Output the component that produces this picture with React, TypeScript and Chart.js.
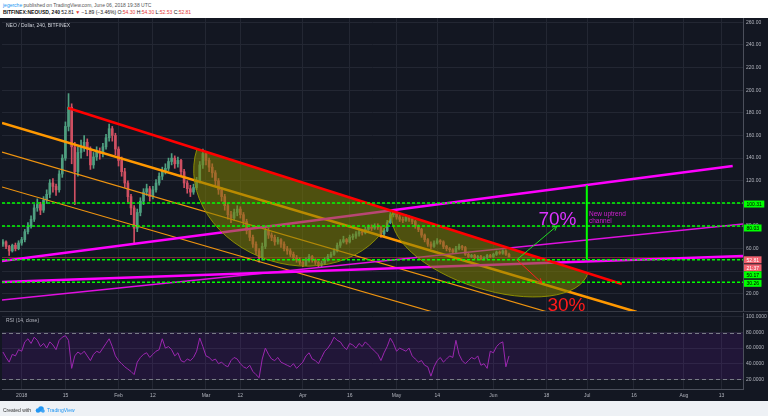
import React, { useEffect, useRef } from 'react';
import { Chart, registerables } from 'chart.js';
Chart.register(...registerables);

const FONT = '"Liberation Sans", Arial, sans-serif';

// day index 0 = Jan 1 2018; first candle = Dec 26 2017
const FIRST_DAY = -6;
const firstOpen = 64;
const closes = [
  66, 62, 58, 63, 60, 65, 68, 75, 80, 86,
  96, 99, 94, 103, 108, 118, 115, 112, 126, 140,
  168, 185, 150, 128, 145, 150, 154, 148, 134, 141,
  146, 144, 150, 158, 166, 160, 148, 138, 128, 118,
  106, 96, 78, 92, 102, 110, 113, 106, 112, 118,
  124, 129, 131, 137, 140, 135, 138, 128, 118, 113,
  110, 114, 120, 134, 144, 138, 132, 127, 120, 112,
  106, 98, 90, 87, 92, 95, 90, 84, 76, 70,
  64, 58, 52, 62, 76, 72, 70, 66, 68, 64,
  60, 58, 55, 52, 50, 48, 46, 50, 53, 50,
  48, 46, 47, 50, 53, 55, 58, 63, 66, 68,
  66, 70, 71, 73, 75, 74, 77, 79, 78, 80,
  79, 73, 76, 83, 90, 92, 88, 86, 85, 88,
  86, 84, 80, 77, 72, 68, 64, 62, 65, 67,
  66, 62, 60, 59, 57, 60, 62, 61, 55, 53,
  54, 52, 53, 51, 52, 54, 53, 55, 57, 56,
  58, 55, 52.81,
];
const highs = [
  68, 67, 63, 64, 65, 67, 70, 77, 83, 89,
  99, 104, 101, 106, 112, 121, 122, 117, 129, 143,
  172, 197, 188, 154, 150, 156, 160, 157, 150, 145,
  150, 149, 153, 161, 170, 168, 162, 150, 141, 131,
  120, 108, 98, 95, 105, 113, 117, 115, 115, 121,
  127, 132, 135, 140, 144, 142, 141, 139, 130, 120,
  116, 117, 123, 137, 148, 146, 140, 135, 129, 122,
  114, 108, 100, 93, 95, 98, 97, 92, 86, 78,
  72, 66, 60, 65, 79, 78, 74, 72, 70, 69,
  66, 62, 60, 57, 54, 52, 50, 52, 55, 54,
  51, 49, 49, 52, 55, 57, 60, 65, 68, 71,
  69, 72, 73, 75, 77, 77, 79, 81, 81, 82,
  82, 80, 78, 85, 92, 93, 93, 90, 88, 90,
  89, 87, 85, 81, 78, 73, 69, 66, 67, 69,
  68, 67, 63, 61, 60, 62, 64, 63, 62, 56,
  55, 55, 54, 54, 53, 55, 55, 56, 58, 58,
  59, 59, 56,
];
const lows = [
  62, 60, 54, 57, 58, 59, 63, 66, 73, 78,
  84, 93, 90, 92, 100, 105, 110, 107, 110, 123,
  138, 164, 135, 99, 124, 140, 146, 142, 130, 131,
  138, 139, 141, 148, 155, 155, 143, 133, 124, 114,
  101, 90, 64, 75, 89, 99, 107, 102, 104, 110,
  116, 121, 126, 129, 134, 131, 132, 124, 114, 109,
  106, 108, 112, 118, 131, 134, 128, 123, 116, 108,
  102, 94, 86, 83, 85, 89, 87, 81, 73, 67,
  61, 55, 48, 50, 60, 69, 67, 63, 64, 61,
  58, 55, 53, 50, 48, 46, 44, 45, 48, 48,
  46, 44, 44, 46, 49, 52, 54, 57, 61, 65,
  64, 65, 68, 69, 71, 72, 73, 76, 76, 77,
  77, 70, 71, 75, 82, 88, 86, 84, 83, 84,
  84, 82, 78, 75, 70, 66, 62, 60, 61, 64,
  64, 60, 58, 57, 56, 56, 59, 59, 54, 52,
  52, 51, 51, 50, 50, 51, 52, 52, 54, 55,
  55, 54, 52.5,
];
const rsiValues = [
  55, 48, 42, 52, 50, 58, 56, 68, 72, 66,
  74, 70, 62, 66, 60, 68, 64, 58, 70, 74,
  76, 70, 34, 50, 55, 52, 56, 50, 44, 52,
  56, 54, 60, 66, 72, 62, 50, 44, 40, 36,
  33, 30, 26, 42, 48, 52, 54, 48, 52, 56,
  58, 72, 60, 62, 58, 50, 54, 44, 42, 46,
  44, 48, 56, 73, 62, 50, 48, 44, 46, 40,
  42, 38, 36, 44, 48, 46, 40, 36, 34, 38,
  30, 26, 22, 46, 60, 52, 46, 44, 48, 42,
  40, 38, 36, 40, 34, 38, 42, 50, 54, 46,
  44, 40, 48, 56, 60, 66, 74, 70, 68, 62,
  58, 66, 64, 60, 66, 62, 68, 64, 60, 56,
  52, 44, 54, 62, 73, 66, 56, 60, 58, 56,
  60, 50, 46, 42, 44, 38, 36, 24, 36, 44,
  48, 42, 46, 50, 48, 70, 52, 44, 40, 44,
  48, 46, 50, 38, 40, 34, 56, 54, 62, 66,
  68, 36, 50,
];

const dateTickDays = [0, 14, 31, 42, 59, 70, 90, 105, 120, 133, 151, 168, 181, 196, 212, 224];
const dateTickLabels = ['2018', '15', 'Feb', '12', 'Mar', '12', 'Apr', '16', 'May', '14', 'Jun', '18', 'Jul', '16', 'Aug', '13'];
const priceTicks = [20, 40, 60, 80, 100, 120, 140, 160, 180, 200, 220, 240, 260];
const rsiTicks = [20, 40, 60, 80, 100];

const lastPrice = 52.81;
const horizontalLevels = [100.31, 80.03, 50.17, 30.26];

// drawings in (day, price)
const redTrend = [[14.85, 184.3], [192.1, 28.8]];
const orangeMain = [[-6.3, 171.0], [196.9, 4.0]];
const orangeMid = [[-6.3, 145.4], [168.4, 4.0]];
const orangeLow = [[-6.3, 114.5], [131.7, 4.0]];
const magentaUpper = [[-6.3, 49.1], [227.6, 133.0]];
const magentaThin = [[-6.3, 14.6], [230.9, 81.8]];
const magentaFlat = [[-6.3, 30.5], [230.9, 53.5]];
const arc1 = [[56.1, 148.1], [118.85, 93.1], [79.3, 49.7]];
const arc2 = [[118.85, 93.1], [181.25, 38.3], [145.5, 25.8]];
const upArrow = [[158.5, 50.2], [171.3, 80.0]];
const downArrow = [[158.5, 50.2], [166.5, 29.7]];
const channelHeight = [[180.9, 116.2], [180.9, 50.2]];
const text70 = [171.5, 85.8];
const text30 = [174.4, 9.8];
const noteLine1 = [181.6, 90.2];
const noteLine2 = [181.6, 84.0];

const days = closes.map((_, i) => FIRST_DAY + i);
const opens = closes.map((_, i) => (i === 0 ? firstOpen : closes[i - 1]));
const candleColors = closes.map((c, i) => (c >= opens[i] ? '#4f9f80' : '#cf5062'));

const GRID = '#232733';
const TICK = '#b2b5be';
const X_MIN = -6.3;
const X_MAX = 230.9;

const mainPlugin = {
  id: 'mainDrawings',
  beforeDatasetsDraw(chart: any) {
    const { ctx, chartArea: a, scales } = chart;
    const y = Math.round(scales.y.getPixelForValue(lastPrice)) + 0.5;
    ctx.save();
    ctx.strokeStyle = 'rgba(150,50,60,0.75)';
    ctx.lineWidth = 1;
    ctx.beginPath();
    ctx.moveTo(a.left, y);
    ctx.lineTo(a.right, y);
    ctx.stroke();
    ctx.restore();
  },
  afterDatasetsDraw(chart: any) {
    const { ctx, chartArea: a, scales } = chart;
    const X = (d: number) => scales.x.getPixelForValue(d);
    const Y = (p: number) => scales.y.getPixelForValue(p);
    ctx.save();
    ctx.beginPath();
    ctx.rect(a.left, a.top, a.right - a.left, a.bottom - a.top);
    ctx.clip();
    const seg = (pts: number[][], color: string, width: number, dash: number[] = []) => {
      ctx.beginPath();
      ctx.setLineDash(dash);
      ctx.strokeStyle = color;
      ctx.lineWidth = width;
      ctx.moveTo(X(pts[0][0]), Y(pts[0][1]));
      ctx.lineTo(X(pts[1][0]), Y(pts[1][1]));
      ctx.stroke();
      ctx.setLineDash([]);
    };
    const arc = (pts: number[][]) => {
      const [A, B, C] = pts.map(([d, p]) => ({ x: X(d), y: Y(p) }));
      const mx = (A.x + B.x) / 2;
      const my = (A.y + B.y) / 2;
      const ang = Math.atan2(B.y - A.y, B.x - A.x);
      const rx = Math.hypot(B.x - A.x, B.y - A.y) / 2;
      const ry = Math.abs((B.x - A.x) * (C.y - A.y) - (B.y - A.y) * (C.x - A.x)) / (2 * rx);
      ctx.beginPath();
      ctx.ellipse(mx, my, rx, ry, ang, 0, Math.PI, false);
      ctx.closePath();
      ctx.fillStyle = 'rgba(128,128,0,0.55)';
      ctx.fill();
      ctx.strokeStyle = 'rgba(150,150,0,0.9)';
      ctx.lineWidth = 1;
      ctx.stroke();
    };
    const arrow = (pts: number[][], color: string) => {
      const x1 = X(pts[0][0]), y1 = Y(pts[0][1]), x2 = X(pts[1][0]), y2 = Y(pts[1][1]);
      ctx.strokeStyle = color;
      ctx.lineWidth = 1;
      ctx.beginPath();
      ctx.moveTo(x1, y1);
      ctx.lineTo(x2, y2);
      const ang = Math.atan2(y2 - y1, x2 - x1);
      const h = 5;
      ctx.moveTo(x2 - h * Math.cos(ang - 0.5), y2 - h * Math.sin(ang - 0.5));
      ctx.lineTo(x2, y2);
      ctx.lineTo(x2 - h * Math.cos(ang + 0.5), y2 - h * Math.sin(ang + 0.5));
      ctx.stroke();
    };
    seg(orangeLow, '#ef9410', 1.2);
    seg(orangeMid, '#ef9410', 1.2);
    seg(orangeMain, '#ff9800', 2.5);
    seg(magentaThin, '#e010e0', 1.5);
    seg(magentaUpper, '#ff00ff', 2.5);
    seg(magentaFlat, '#ff00ff', 2.5);
    arc(arc1);
    arc(arc2);
    seg(redTrend, '#ff0000', 2.5);
    horizontalLevels.forEach((v) => seg([[X_MIN, v], [X_MAX, v]], '#00ff00', 1.5, [3, 2]));
    seg(channelHeight, '#00ff00', 2);
    arrow(upArrow, '#22dd22');
    arrow(downArrow, '#ff2020');
    ctx.textAlign = 'center';
    ctx.textBaseline = 'middle';
    ctx.font = `19px ${FONT}`;
    ctx.fillStyle = '#dd33ff';
    ctx.fillText('70%', X(text70[0]), Y(text70[1]));
    ctx.fillStyle = '#ff1a1a';
    ctx.fillText('30%', X(text30[0]), Y(text30[1]));
    ctx.textAlign = 'left';
    ctx.font = `6.5px ${FONT}`;
    ctx.fillStyle = '#d020d0';
    ctx.fillText('New uptrend', X(noteLine1[0]), Y(noteLine1[1]));
    ctx.fillText('channel', X(noteLine2[0]), Y(noteLine2[1]));
    ctx.restore();
  },
  afterDraw(chart: any) {
    const { ctx, chartArea: a, scales, width } = chart;
    const Y = (p: number) => scales.y.getPixelForValue(p);
    ctx.save();
    ctx.fillStyle = '#363a45';
    ctx.fillRect(0, a.bottom - 1, width, 2);
    const box = (yc: number, text: string, bg: string, fg: string) => {
      ctx.font = `5px ${FONT}`;
      const w = ctx.measureText(text).width + 5;
      ctx.fillStyle = bg;
      ctx.fillRect(a.right + 1, yc - 3.5, w, 7);
      ctx.fillStyle = fg;
      ctx.textAlign = 'left';
      ctx.textBaseline = 'middle';
      ctx.fillText(text, a.right + 3.5, yc + 0.5);
    };
    box(Y(100.31) + 1, '100.31', '#00ff00', '#000');
    box(Y(80.03) + 2, '80.03', '#00ff00', '#000');
    box(Y(30.26) + 1, '30.26', '#00ff00', '#000');
    box(Y(lastPrice) + 3, lastPrice.toFixed(2), '#f0606e', '#fff');
    box(Y(lastPrice) + 11, '21:37', '#f0606e', '#fff');
    box(Y(50.17) + 15, '50.17', '#00ff00', '#000');
    ctx.restore();
  },
};

const rsiPlugin = {
  id: 'rsiBand',
  beforeDatasetsDraw(chart: any) {
    const { ctx, chartArea: a, scales } = chart;
    const y80 = scales.y.getPixelForValue(80);
    const y20 = scales.y.getPixelForValue(20);
    ctx.save();
    ctx.fillStyle = 'rgba(153,21,255,0.1)';
    ctx.fillRect(a.left, y80, a.right - a.left, y20 - y80);
    ctx.strokeStyle = '#787b86';
    ctx.lineWidth = 1;
    ctx.setLineDash([4, 3]);
    [y80, y20].forEach((y) => {
      ctx.beginPath();
      ctx.moveTo(a.left, Math.round(y) + 0.5);
      ctx.lineTo(a.right, Math.round(y) + 0.5);
      ctx.stroke();
    });
    ctx.restore();
  },
};

function fixY(width: number) {
  return (s: any) => {
    s.width = width;
    s.paddingTop = 0;
    s.paddingBottom = 0;
  };
}

export default function App() {
  const mainRef = useRef<HTMLCanvasElement>(null);
  const rsiRef = useRef<HTMLCanvasElement>(null);

  useEffect(() => {
    const xCommon = {
      type: 'linear' as const,
      min: X_MIN,
      max: X_MAX,
      offset: false,
      grid: { color: GRID, offset: false, drawTicks: false },
      afterBuildTicks: (s: any) => {
        s.ticks = dateTickDays.map((v) => ({ value: v }));
      },
    };
    const main = new Chart(mainRef.current as HTMLCanvasElement, {
      type: 'bar',
      data: {
        datasets: [
          {
            data: days.map((d, i) => ({ x: d, y: [opens[i], closes[i]] })) as any,
            backgroundColor: candleColors,
            barThickness: 2,
            minBarLength: 1,
            grouped: false,
            borderWidth: 0,
          },
          {
            data: days.map((d, i) => ({ x: d, y: [lows[i], highs[i]] })) as any,
            backgroundColor: candleColors,
            barThickness: 1,
            grouped: false,
            borderWidth: 0,
          },
        ],
      },
      options: {
        responsive: false,
        animation: false,
        events: [],
        layout: { padding: { left: 2, right: 0, top: 0, bottom: 0 } },
        plugins: { legend: { display: false }, tooltip: { enabled: false } },
        scales: {
          x: {
            ...xCommon,
            border: { display: false },
            ticks: { display: false },
            afterFit: (s: any) => {
              s.height = 0;
              s.paddingLeft = 0;
              s.paddingRight = 0;
            },
          },
          y: {
            position: 'right',
            min: 4.04,
            max: 263.8,
            grid: { color: GRID, drawTicks: false },
            border: { color: '#4b4f5b' },
            ticks: {
              color: TICK,
              font: { size: 5, family: FONT },
              padding: 3,
              callback: (v: any) => Number(v).toFixed(2),
            },
            afterBuildTicks: (s: any) => {
              s.ticks = priceTicks.map((v) => ({ value: v }));
            },
            afterFit: fixY(25),
          },
        },
      } as any,
      plugins: [mainPlugin],
    });

    const rsi = new Chart(rsiRef.current as HTMLCanvasElement, {
      type: 'line',
      data: {
        datasets: [
          {
            data: days.map((d, i) => ({ x: d, y: rsiValues[i] })),
            borderColor: '#9c27b0',
            borderWidth: 1,
            pointRadius: 0,
            tension: 0,
          },
        ],
      },
      options: {
        responsive: false,
        animation: false,
        events: [],
        layout: { padding: { left: 2, right: 0, top: 1, bottom: 0 } },
        plugins: { legend: { display: false }, tooltip: { enabled: false } },
        scales: {
          x: {
            ...xCommon,
            border: { color: '#4b4f5b' },
            ticks: {
              color: TICK,
              font: { size: 5, family: FONT },
              padding: 4,
              maxRotation: 0,
              autoSkip: false,
              callback: (v: any) => {
                const k = dateTickDays.indexOf(Number(v));
                return k >= 0 ? dateTickLabels[k] : '';
              },
            },
            afterFit: (s: any) => {
              s.height = 12;
              s.paddingLeft = 0;
              s.paddingRight = 0;
            },
          },
          y: {
            position: 'right',
            min: 7.5,
            max: 105.1,
            grid: { color: GRID, drawTicks: false },
            border: { color: '#4b4f5b' },
            ticks: {
              color: TICK,
              font: { size: 5, family: FONT },
              padding: 3,
              callback: (v: any) => Number(v).toFixed(4),
            },
            afterBuildTicks: (s: any) => {
              s.ticks = rsiTicks.map((v) => ({ value: v }));
            },
            afterFit: fixY(25),
          },
        },
      } as any,
      plugins: [rsiPlugin],
    });

    return () => {
      main.destroy();
      rsi.destroy();
    };
  }, []);

  const red = { color: '#e53935' };
  return (
    <div
      style={{
        position: 'relative',
        width: 768,
        height: 416,
        background: '#eef1f5',
        overflow: 'hidden',
        fontFamily: FONT,
      }}
    >
      <style>{'body{margin:0}'}</style>
      <div style={{ position: 'absolute', left: 0, top: 0, width: 768, height: 18, background: '#ffffff' }} />
      <div style={{ position: 'absolute', left: 3, top: 2, fontSize: 5, color: '#555', whiteSpace: 'nowrap', lineHeight: '6px' }}>
        <span style={{ color: '#2196f3' }}>jegerche</span> published on TradingView.com, June 06, 2018 19:38 UTC
      </div>
      <div style={{ position: 'absolute', left: 3, top: 9, fontSize: 5, color: '#111', whiteSpace: 'nowrap', lineHeight: '6px' }}>
        <b>BITFINEX:NEOUSD, 240</b> 52.81 <span style={red}>▼</span> −1.89 (−3.46%) O:<span style={red}>54.30</span> H:
        <span style={red}>54.30</span> L:<span style={red}>52.53</span> C:<span style={red}>52.81</span>
      </div>
      <div style={{ position: 'absolute', left: 0, top: 18, width: 768, height: 383, background: '#131722' }} />
      <canvas
        ref={mainRef}
        width={768}
        height={294}
        style={{ position: 'absolute', left: 0, top: 18, width: 768, height: 294 }}
      />
      <canvas
        ref={rsiRef}
        width={768}
        height={89}
        style={{ position: 'absolute', left: 0, top: 312, width: 768, height: 89 }}
      />
      <div style={{ position: 'absolute', left: 6, top: 22, fontSize: 5, color: '#d1d4dc', whiteSpace: 'nowrap', lineHeight: '6px' }}>
        NEO / Dollar, 240, BITFINEX
      </div>
      <div style={{ position: 'absolute', left: 6, top: 317, fontSize: 5, color: '#b2b5be', whiteSpace: 'nowrap', lineHeight: '6px' }}>
        RSI (14, close)
      </div>
      <div style={{ position: 'absolute', left: 3, top: 406, fontSize: 5, color: '#333', whiteSpace: 'nowrap', lineHeight: '6px', display: 'flex', alignItems: 'center' }}>
        <span>Created with</span>
        <svg width="10" height="7" viewBox="0 0 10 7" style={{ margin: '0 2px 0 4px' }}>
          <circle cx="3" cy="4.5" r="2.3" fill="#2196f3" />
          <circle cx="6" cy="3" r="2.8" fill="#2196f3" />
          <circle cx="8" cy="5" r="1.8" fill="#42a5f5" />
        </svg>
        <span style={{ color: '#2196f3' }}>TradingView</span>
      </div>
    </div>
  );
}
